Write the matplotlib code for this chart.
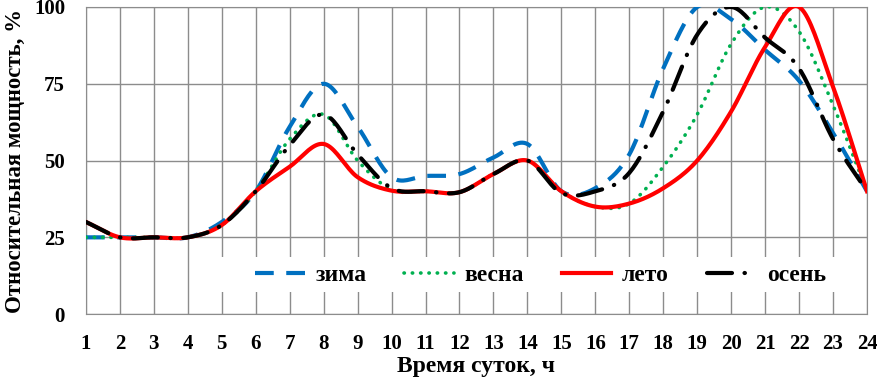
import matplotlib
matplotlib.use("Agg")
import matplotlib.pyplot as plt
from matplotlib.patches import Rectangle
import numpy as np

plt.rcParams['font.family'] = ['Liberation Serif', 'DejaVu Serif']
plt.rcParams['font.weight'] = 'bold'

hours = list(range(1, 25))
zima  = [25, 25, 25, 25, 30, 40, 61, 75, 61, 44.6, 45, 45.6, 51, 55.4, 40, 41, 52, 80, 100, 96, 86, 76, 59, 40]
vesna = [25, 25, 25, 25, 29, 40, 57, 65, 50, 40.5, 40, 39.7, 45.6, 50, 40, 35, 36, 48, 65, 88, 100, 92, 68, 40]
leto  = [30, 25, 25, 25, 29, 40, 48, 55.4, 44.6, 40.2, 40, 39.7, 45.6, 50, 40, 35, 36, 41, 50, 66, 87, 100, 74, 40]
osen  = [30, 25, 25, 25, 29, 40, 55, 65, 52, 41, 40, 39.7, 45.6, 50, 39.4, 40, 46, 66, 91, 100, 90, 80, 57, 40]

def smooth(x, y, n=20):
    # catmull-rom, roughly like excel smoothed lines
    x = np.asarray(x, float)
    y = np.asarray(y, float)
    px = np.concatenate([[2*x[0]-x[1]], x, [2*x[-1]-x[-2]]])
    py = np.concatenate([[2*y[0]-y[1]], y, [2*y[-1]-y[-2]]])
    xs, ys = [], []
    for i in range(1, len(px)-2):
        t = np.linspace(0, 1, n, endpoint=False)
        for p, out in ((px, xs), (py, ys)):
            p0, p1, p2, p3 = p[i-1], p[i], p[i+1], p[i+2]
            v = 0.5*((2*p1) + (-p0+p2)*t + (2*p0-5*p1+4*p2-p3)*t**2 + (-p0+3*p1-3*p2+p3)*t**3)
            out.extend(v)
    xs.append(x[-1])
    ys.append(y[-1])
    return np.array(xs), np.array(ys)

fig = plt.figure(figsize=(8.77, 3.78), dpi=100)
ax = fig.add_axes([0.098, 0.169, 0.8906, 0.8125])

x, y = smooth(hours, zima)
ax.plot(x, y, color='#0070C0', lw=3, dashes=(4.5, 3), label='зима', zorder=3)
x, y = smooth(hours, vesna)
ax.plot(x, y, color='#00B050', lw=2.6, dashes=(0.1, 2.2), dash_capstyle='round', label='весна', zorder=4)
x, y = smooth(hours, leto)
ax.plot(x, y, color='#FF0000', lw=3, label='лето', zorder=5)
x, y = smooth(hours, osen)
ax.plot(x, y, color='black', lw=3, dashes=(6, 3, 0.1, 3), dash_capstyle='round', label='осень', zorder=6)

ax.set_xlim(1, 24)
ax.set_ylim(0, 100)
ax.set_xticks(hours)
ax.set_yticks([0, 25, 50, 75, 100])
ax.grid(True, color='#8c8c8c', lw=1)
ax.set_axisbelow(True)
for s in ax.spines.values():
    s.set_color('#8c8c8c')
ax.tick_params(length=0, labelsize=15)
ax.tick_params(axis='x', pad=14)
ax.tick_params(axis='y', pad=15)

ax.set_xlabel('Время суток, ч', fontsize=17, fontweight='bold', va='center')
ax.xaxis.set_label_coords(0.5, -0.172)
ax.set_ylabel('Относительная мощность, %', fontsize=16.5, fontweight='bold', labelpad=6)

# white box under the legend, hides the grid
ax.add_patch(Rectangle((0.146, 0.072), 0.852, 0.114, transform=ax.transAxes,
                       facecolor='white', edgecolor='none', zorder=1))
ax.legend(loc='center', bbox_to_anchor=(0.582, 0.125), ncol=4, fontsize=17,
          frameon=False, handlelength=2.1, columnspacing=1.6, handletextpad=0.45)

fig.savefig('out.png', dpi=100)
